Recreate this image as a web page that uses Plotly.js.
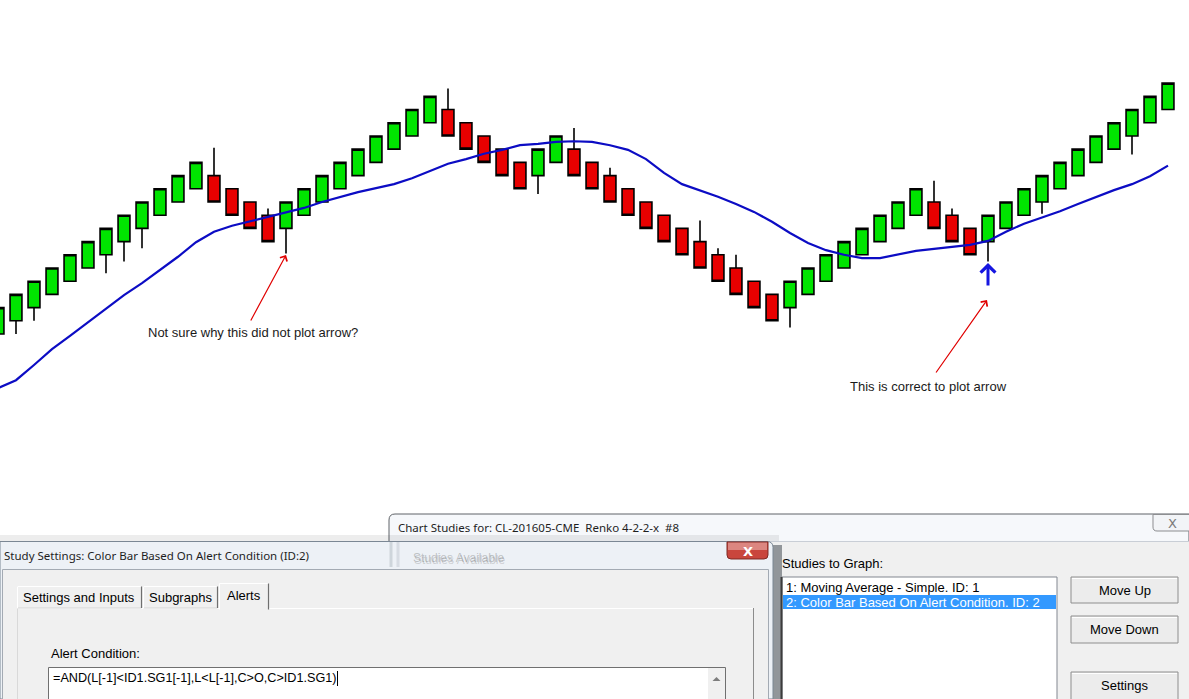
<!DOCTYPE html>
<html><head><meta charset="utf-8">
<script src="https://cdn.plot.ly/plotly-3.0.1.min.js"></script>
<style>html,body{margin:0;padding:0;background:#fff;overflow:hidden}#chart{width:1189px;height:699px}</style>
</head><body><div id="chart"></div>
<script>
// ---- Renko bars (CL-201605-CME, Renko 4-2-2-x) ----
const openP = [41.50,41.52,41.54,41.56,41.58,41.60,41.62,41.64,41.66,41.68,
  41.70,41.72,41.74,41.72,41.70,41.68,41.66,41.68,41.70,41.72,
  41.74,41.76,41.78,41.80,41.82,41.84,41.82,41.80,41.78,41.76,
  41.74,41.76,41.78,41.76,41.74,41.72,41.70,41.68,41.66,41.64,
  41.62,41.60,41.58,41.56,41.54,41.56,41.58,41.60,41.62,41.64,
  41.66,41.68,41.70,41.68,41.66,41.64,41.66,41.68,41.70,41.72,
  41.74,41.76,41.78,41.80,41.82,41.84];
const closeP = [41.54,41.56,41.58,41.60,41.62,41.64,41.66,41.68,41.70,41.72,
  41.74,41.76,41.70,41.68,41.66,41.64,41.70,41.72,41.74,41.76,
  41.78,41.80,41.82,41.84,41.86,41.80,41.78,41.76,41.74,41.72,
  41.78,41.80,41.74,41.72,41.70,41.68,41.66,41.64,41.62,41.60,
  41.58,41.56,41.54,41.52,41.58,41.60,41.62,41.64,41.66,41.68,
  41.70,41.72,41.66,41.64,41.62,41.68,41.70,41.72,41.74,41.76,
  41.78,41.80,41.82,41.84,41.86,41.88];
const highP = [41.54,41.56,41.58,41.60,41.62,41.64,41.66,41.68,41.70,41.72,
  41.74,41.76,41.782,41.72,41.70,41.69,41.70,41.72,41.74,41.76,
  41.78,41.80,41.82,41.84,41.86,41.872,41.82,41.80,41.78,41.76,
  41.78,41.80,41.812,41.76,41.752,41.72,41.70,41.68,41.66,41.672,
  41.63,41.62,41.58,41.56,41.58,41.60,41.62,41.64,41.66,41.68,
  41.70,41.72,41.732,41.69,41.66,41.68,41.70,41.72,41.74,41.76,
  41.78,41.80,41.82,41.84,41.86,41.88];
const lowP = [41.50,41.50,41.52,41.56,41.58,41.60,41.592,41.61,41.63,41.68,
  41.70,41.72,41.70,41.68,41.66,41.64,41.622,41.68,41.70,41.72,
  41.74,41.76,41.78,41.80,41.82,41.80,41.78,41.76,41.74,41.72,
  41.712,41.76,41.74,41.72,41.70,41.68,41.66,41.64,41.62,41.60,
  41.58,41.56,41.54,41.52,41.51,41.56,41.58,41.60,41.62,41.64,
  41.66,41.68,41.66,41.64,41.62,41.61,41.66,41.68,41.682,41.72,
  41.74,41.76,41.78,41.772,41.82,41.84];
// ---- Study 1: Moving Average - Simple ----
const maP = [41.418,41.430,41.453,41.477,41.497,41.518,41.539,41.559,41.577,41.597,
  41.617,41.639,41.655,41.664,41.671,41.677,41.685,41.691,41.700,41.708,
  41.715,41.721,41.727,41.736,41.747,41.758,41.765,41.773,41.779,41.786,
  41.788,41.791,41.792,41.791,41.786,41.779,41.765,41.744,41.727,41.718,
  41.708,41.697,41.685,41.670,41.653,41.638,41.627,41.620,41.615,41.615,
  41.620,41.626,41.629,41.632,41.635,41.641,41.655,41.667,41.676,41.686,
  41.697,41.708,41.718,41.727,41.739,41.755];
const barNo = openP.map((_, i) => i + 1);
// ---- Study 2: alert arrow bar ----
const alertBar = 56;

// ---- texts ----
const note1 = "Not sure why this did not plot arrow?";
const note2 = "This is correct to plot arrow";
const backTitle = "Chart Studies for: CL-201605-CME\u00a0\u00a0Renko 4-2-2-x\u00a0\u00a0#8";
const frontTitle = "Study Settings: Color Bar Based On Alert Condition (ID:2)";
const tabs = ["Settings and Inputs", "Subgraphs", "Alerts"];
const studies = ["1: Moving Average - Simple. ID: 1", "2: Color Bar Based On Alert Condition. ID: 2"];
const buttons = ["Move Up", "Move Down", "Settings"];
const alertFormula = "=AND(L[-1]<ID1.SG1[-1],L<L[-1],C>O,C>ID1.SG1)";

const W = 1189, H = 699;
const PX = x => x / W, PY = y => 1 - y / H;
const shapes = [], ann = [];
function rect(x0, y0, x1, y1, fill, line, lw) {
  shapes.push({type:'rect', xref:'paper', yref:'paper', x0:PX(x0), x1:PX(x1), y0:PY(y0), y1:PY(y1),
    fillcolor: fill || 'rgba(0,0,0,0)', line:{color: line || 'rgba(0,0,0,0)', width: line ? (lw || 1) : 0}, layer:'above'});
}
function seg(x0, y0, x1, y1, color, lw) {
  shapes.push({type:'line', xref:'paper', yref:'paper', x0:PX(x0), x1:PX(x1), y0:PY(y0), y1:PY(y1),
    line:{color: color, width: lw || 1}, layer:'above'});
}
function path(pts, fill, line, lw) {
  let d = pts.map(p => p[0] + p.slice(1).map((v, k) => k % 2 === 0 ? PX(v).toFixed(5) : PY(v).toFixed(5)).join(',')).join(' ');
  shapes.push({type:'path', xref:'paper', yref:'paper', path:d, fillcolor: fill || 'rgba(0,0,0,0)',
    line:{color: line || 'rgba(0,0,0,0)', width: line ? (lw || 1) : 0}, layer:'above'});
}
function txt(x, y, t, size, color, family, anchor, extra) {
  ann.push(Object.assign({xref:'paper', yref:'paper', x:PX(x), y:PY(y), text:t, showarrow:false,
    xanchor: anchor || 'left', yanchor:'middle', borderpad:0,
    font:{size:size, color:color || '#000', family: family || 'Liberation Sans, Arial, sans-serif'}}, extra || {}));
}
const UI = 'Liberation Sans, Arial, sans-serif';
const TF = 'Noto Sans, Open Sans, sans-serif';

// ---- Back dialog: Chart Studies ----
path([['M',389,699],['L',389,520],['Q',389,514,395,514],['L',1189,514],['L',1189,699],['Z']], '#f6f8fb', '#5f6368', 1);
rect(390, 541, 1189, 699, '#f0f0f0');
seg(390, 541.5, 1189, 541.5, '#c9ced6', 1);
path([['M',1153,514.5],['L',1153,527],['Q',1153,531,1157,531],['L',1195,531],['L',1195,514.5],['Z']], '#f2f4f7', '#8c8d90', 1);
txt(1172, 523, 'X', 13, '#7b7b7b', 'DejaVu Sans, sans-serif', 'center');
txt(397, 527, backTitle, 11.5, '#1e1e1e', TF);
txt(781, 563, 'Studies to Graph:', 13, '#000', UI);
rect(782, 577, 1057, 710, '#ffffff', '#828790', 1);
rect(783, 595, 1056, 609, '#3399ff');
txt(785, 587, studies[0], 13, '#000', UI);
txt(785, 602, studies[1], 13, '#ffffff', UI);
const btnY = [[577,603],[616,643],[672,706]];
buttons.forEach((b, i) => {
  rect(1071, btnY[i][0], 1178, btnY[i][1], '#ececec', '#8e8e8e', 1);
  seg(1072, btnY[i][0] + 1.5, 1177, btnY[i][0] + 1.5, '#ffffff', 1);
  txt(1124.5, (btnY[i][0] + Math.min(btnY[i][1], 699)) / 2, b, 13, '#000', UI, 'center');
});

// ---- Front dialog: Study Settings ----
rect(0, 535, 779, 541, 'rgba(0,0,0,0.07)');
rect(773, 545, 782, 699, 'rgba(70,76,84,0.55)');
seg(781.5, 577, 781.5, 699, '#3c3c3c', 2);
path([['M',0,699],['L',0,541.5],['L',767,541.5],['Q',773,541.5,773,547.5],['L',773,699],['Z']], '#edf1f6', '#7b8794', 1);
// back dialog contents seen blurred through the glass title bar
seg(391, 542, 391, 567, 'rgba(150,160,170,0.35)', 3);
seg(398, 542, 398, 567, 'rgba(150,160,170,0.25)', 3);
txt(412, 558, 'Studies Available', 12, 'rgba(100,100,100,0.35)', UI, 'left');
txt(413, 559.5, 'Studies Available', 12, 'rgba(100,100,100,0.25)', UI, 'left');
rect(2.5, 569.5, 768.5, 710, '#f0f0f0', '#a3aab3', 1);
path([['M',727,542],['L',727,555],['Q',727,559,731,559],['L',764,559],['Q',768,559,768,555],['L',768,542],['Z']], '#c9463d', '#7d2a25', 1);
rect(728, 542.5, 767, 550, 'rgba(255,255,255,0.35)');
txt(747.5, 551, 'X', 13, '#ffffff', 'DejaVu Sans, sans-serif', 'center', {font:{size:13, color:'#ffffff', family:'DejaVu Sans, sans-serif', weight:700}});
txt(3, 555, frontTitle, 11.5, '#1e1e1e', TF);
// tab panel
rect(17.5, 608.5, 753.5, 710, '#f0f0f0', '#d9d9d9', 1);
seg(17.5, 608.5, 753, 608.5, '#ffffff', 1);
seg(753.5, 608, 753.5, 699, '#8c8c8c', 1);
// tabs
const tabX = [[17,142],[143,218],[219,269]];
tabs.forEach((t, i) => {
  const sel = i === 2;
  const y0 = sel ? 583.5 : 586.5, y1 = sel ? 609.5 : 608;
  rect(tabX[i][0] + 0.5, y0, tabX[i][1] - 0.5, y1, '#f0f0f0', sel ? undefined : '#d4d4d4', 1);
  seg(tabX[i][0] + 0.5, y0, tabX[i][1] - 0.5, y0, '#ffffff', 1);
  seg(tabX[i][0] + 0.5, y0, tabX[i][0] + 0.5, y1, '#ffffff', 1);
  seg(tabX[i][1] - 0.5, y0, tabX[i][1] - 0.5, y1, '#6f6f6f', 1.2);
  txt((tabX[i][0] + tabX[i][1]) / 2, sel ? 595 : 597.5, t, 13, '#000', UI, 'center');
});
txt(50, 653, 'Alert Condition:', 13, '#000', UI);
rect(48.5, 667.5, 725.5, 710, '#ffffff', '#707070', 1);
rect(708, 668, 725, 699, '#f0f0f0');
path([['M',712.5,681],['L',716.5,677],['L',720.5,681],['Z']], '#7d7d7d');
txt(52, 678, alertFormula, 12.65, '#000', UI);
seg(337.5, 671, 337.5, 686, '#000', 1);

// ---- chart annotations ----
txt(147, 332, note1, 13, '#1a1a1a', UI);
txt(849, 386, note2, 13, '#1a1a1a', UI);
ann.push({xref:'paper', yref:'paper', x:PX(286), y:PY(255), ax:250-286, ay:322-255, axref:'pixel', ayref:'pixel',
  text:'', showarrow:true, arrowhead:4, arrowsize:1.3, arrowwidth:1.2, arrowcolor:'#e00000'});
ann.push({xref:'paper', yref:'paper', x:PX(987), y:PY(300), ax:935-987, ay:374-300, axref:'pixel', ayref:'pixel',
  text:'', showarrow:true, arrowhead:4, arrowsize:1.3, arrowwidth:1.2, arrowcolor:'#e00000'});
// Study 2 alert arrow below the signal bar
ann.push({xref:'x', yref:'y', x:alertBar, y:lowP[alertBar - 1] - 0.0025, ax:0, ay:24, axref:'pixel', ayref:'pixel',
  text:'', showarrow:true, arrowhead:4, arrowsize:0.95, arrowwidth:3, arrowcolor:'#1616e0', standoff:0});

const traces = [
  {type:'candlestick', x:barNo, open:openP, high:highP, low:lowP, close:closeP,
   increasing:{line:{color:'#000000', width:1.6}, fillcolor:'#00e400'},
   decreasing:{line:{color:'#000000', width:1.6}, fillcolor:'#e80000'},
   whiskerwidth:0, hoverinfo:'skip', showlegend:false},
  {type:'scatter', mode:'lines', x:barNo, y:maP, line:{color:'#0c0cc4', width:2.2},
   hoverinfo:'skip', showlegend:false}
];
const layout = {
  width:W, height:H, margin:{l:0, r:0, t:0, b:0}, paper_bgcolor:'#ffffff', plot_bgcolor:'#ffffff',
  showlegend:false, boxgap:0.34, boxgroupgap:0,
  xaxis:{visible:false, range:[1 + 2/18, 1 + 1191/18], rangeslider:{visible:false}, fixedrange:true},
  yaxis:{visible:false, range:[40.947, 42.006], fixedrange:true},
  shapes:shapes, annotations:ann
};
Plotly.newPlot('chart', traces, layout, {staticPlot:true, displayModeBar:false});
</script></body></html>
